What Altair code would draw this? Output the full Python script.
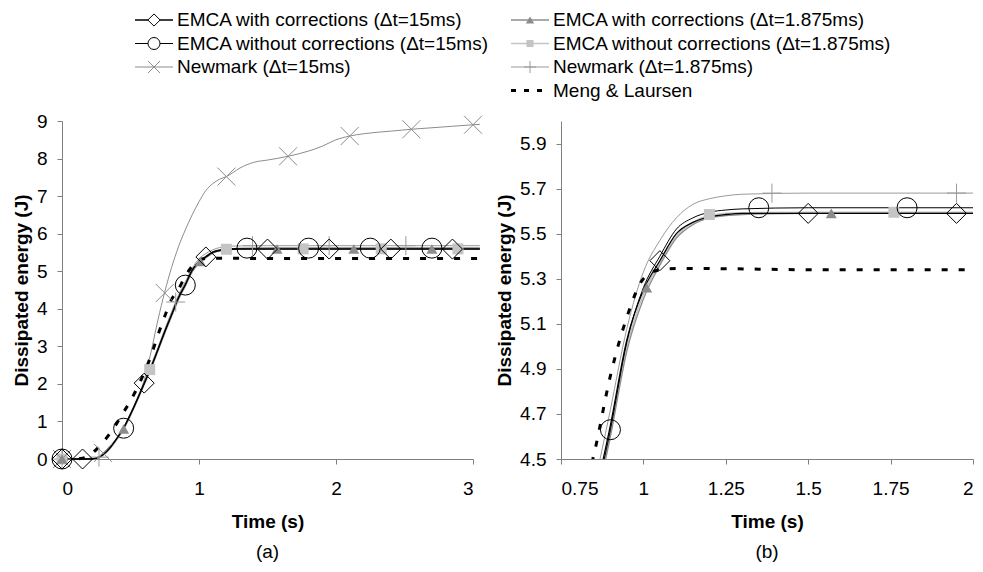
import altair as alt
import pandas as pd

FONT = "Liberation Sans"

# ---------------- series names ----------------
S1 = "EMCA with corrections (\u0394t=15ms)"
S2 = "EMCA without corrections (\u0394t=15ms)"
S3 = "Newmark (\u0394t=15ms)"
S4 = "EMCA with corrections (\u0394t=1.875ms)"
S5 = "EMCA without corrections (\u0394t=1.875ms)"
S6 = "Newmark (\u0394t=1.875ms)"
S7 = "Meng & Laursen"

# ---------------- curve data (time s, energy J) ----------------
T_EMCA = [0, 0.1, 0.2, 0.25, 0.3, 0.35, 0.4, 0.45, 0.5, 0.55, 0.6, 0.65, 0.7, 0.75,
          0.8, 0.85, 0.9, 0.95, 1.0, 1.05, 1.1, 1.15, 1.2, 1.25, 1.3, 1.5, 2.0, 2.5, 3.05]
E_S1 = [0, 0, 0, 0.02, 0.12, 0.3, 0.55, 0.83, 1.2, 1.6, 2.02, 2.45, 2.92, 3.4,
        3.85, 4.3, 4.65, 5.03, 5.25, 5.38, 5.5, 5.55, 5.575, 5.585, 5.59, 5.59, 5.59, 5.59, 5.59]
E_S2 = [0, 0, 0, 0.02, 0.11, 0.29, 0.54, 0.82, 1.18, 1.58, 2.0, 2.43, 2.9, 3.38,
        3.83, 4.28, 4.63, 5.02, 5.26, 5.4, 5.52, 5.57, 5.595, 5.605, 5.61, 5.615, 5.615, 5.615, 5.615]
E_S4 = [0, 0, 0, 0.01, 0.1, 0.28, 0.52, 0.8, 1.16, 1.56, 1.98, 2.4, 2.87, 3.35,
        3.8, 4.25, 4.6, 4.98, 5.21, 5.36, 5.48, 5.54, 5.57, 5.58, 5.585, 5.59, 5.59, 5.59, 5.59]
E_S5 = [0, 0, 0, 0.01, 0.1, 0.28, 0.52, 0.8, 1.17, 1.57, 2.02, 2.46, 2.9, 3.37,
        3.82, 4.26, 4.62, 5.0, 5.23, 5.37, 5.49, 5.55, 5.58, 5.59, 5.593, 5.595, 5.595, 5.595, 5.595]
E_S6 = [0, 0, 0, 0.02, 0.12, 0.3, 0.56, 0.85, 1.22, 1.63, 2.06, 2.5, 2.97, 3.45,
        3.92, 4.36, 4.72, 5.08, 5.33, 5.47, 5.57, 5.63, 5.655, 5.668, 5.675, 5.68, 5.68, 5.68, 5.68]

T_NM15 = [0, 0.2, 0.25, 0.3, 0.35, 0.4, 0.45, 0.5, 0.55, 0.6, 0.65, 0.7, 0.75, 0.8, 0.85,
          0.9, 0.95, 1.0, 1.05, 1.1, 1.15, 1.2, 1.3, 1.4, 1.5, 1.65, 1.8, 1.9, 2.0, 2.1,
          2.2, 2.4, 2.55, 2.7, 2.85, 3.0, 3.05]
E_S3 = [0, 0, 0.03, 0.16, 0.35, 0.55, 0.82, 1.2, 1.6, 2.1, 2.85, 3.7, 4.45, 5.1, 5.65,
        6.1, 6.5, 6.85, 7.15, 7.33, 7.45, 7.52, 7.75, 7.9, 7.96, 8.06, 8.2, 8.33, 8.5, 8.6,
        8.66, 8.73, 8.78, 8.82, 8.86, 8.9, 8.91]

T_MENG = [0, 0.1, 0.15, 0.2, 0.25, 0.3, 0.35, 0.4, 0.45, 0.5, 0.55, 0.6, 0.65, 0.7, 0.75,
          0.8, 0.85, 0.9, 0.95, 1.0, 1.05, 1.1, 1.2, 1.5, 2.0, 2.5, 3.05]
E_S7 = [0, 0, 0.02, 0.1, 0.25, 0.45, 0.68, 0.95, 1.25, 1.55, 1.9, 2.3, 2.75, 3.3, 3.8,
        4.25, 4.52, 4.87, 5.13, 5.3, 5.34, 5.345, 5.345, 5.34, 5.34, 5.34, 5.34]

# ---------------- marker data ----------------
MK_S1_T = [0, 0.15, 0.6, 1.05, 1.5, 1.95, 2.4, 2.85]
MK_S1_E = [0, 0, 2.02, 5.38, 5.59, 5.59, 5.59, 5.59]
MK_S2_T = [0, 0.45, 0.9, 1.35, 1.8, 2.25, 2.7]
MK_S2_E = [0, 0.82, 4.63, 5.615, 5.615, 5.615, 5.615]
MK_S3_T = [0, 0.3, 0.75, 1.2, 1.65, 2.1, 2.55, 3.0]
MK_S3_E = [0, 0.16, 4.42, 7.52, 8.06, 8.6, 8.78, 8.9]
MK_S4_T = [0, 0.45, 1.01, 1.57, 2.13, 2.7]
MK_S4_E = [0, 0.8, 5.26, 5.59, 5.59, 5.59]
MK_S5_T = [0, 0.64, 1.2, 1.76, 2.33, 2.89]
MK_S5_E = [0, 2.38, 5.585, 5.595, 5.595, 5.595]
MK_S6_T = [0, 0.27, 0.83, 1.39, 1.95, 2.51]
MK_S6_E = [0, 0.05, 4.18, 5.68, 5.68, 5.68]

LINES = {
    S1: (T_EMCA, E_S1), S2: (T_EMCA, E_S2), S3: (T_NM15, E_S3), S4: (T_EMCA, E_S4),
    S5: (T_EMCA, E_S5), S6: (T_EMCA, E_S6), S7: (T_MENG, E_S7),
}
MARKS = {
    S1: (MK_S1_T, MK_S1_E), S2: (MK_S2_T, MK_S2_E), S3: (MK_S3_T, MK_S3_E),
    S4: (MK_S4_T, MK_S4_E), S5: (MK_S5_T, MK_S5_E), S6: (MK_S6_T, MK_S6_E),
}

XPATH = "M-1,-1L1,1M-1,1L1,-1"
PPATH = "M-1,0L1,0M0,-1L0,1"

STYLE = {
    S1: dict(line="#000000", lw=1.3, shape="diamond", filled=False, mc="#000000", ms=400, ls=150),
    S2: dict(line="#000000", lw=1.0, shape="circle", filled=False, mc="#000000", ms=400, ls=144),
    S3: dict(line="#8c8c8c", lw=1.0, shape=XPATH, filled=False, mc="#8c8c8c", ms=324, ls=144),
    S4: dict(line="#8c8c8c", lw=1.3, shape="triangle-up", filled=True, mc="#8c8c8c", ms=121, ls=70),
    S5: dict(line="#c4c4c4", lw=1.6, shape="square", filled=True, mc="#c4c4c4", ms=121, ls=50),
    S6: dict(line="#9a9a9a", lw=1.0, shape=PPATH, filled=False, mc="#9a9a9a", ms=361, ls=144),
    S7: dict(line="#000000", lw=3.0, dash=[6, 11]),
}

AX = dict(domainColor="#808080", tickColor="#808080", tickSize=5, grid=False,
          labelFont=FONT, labelFontSize=19, labelColor="black",
          titleFont=FONT, titleFontSize=19, titleFontWeight="bold", titleColor="black")


def panel(series, xdom, xticks, ydom, yticks, clip, caption, w, h):
    xs = alt.Scale(domain=xdom, nice=False, zero=False)
    ys = alt.Scale(domain=ydom, nice=False, zero=False)
    xax = alt.Axis(values=xticks, format=".3~g", title="Time (s)", labelPadding=15,
                   titlePadding=14, **AX)
    yax = alt.Axis(values=yticks, format=".3~g", title="Dissipated energy (J)",
                   labelPadding=10, titlePadding=5, **AX)
    layers = []
    for key in series:
        st = STYLE[key]
        t, e = LINES[key]
        df = pd.DataFrame({"t": t, "E": e})
        kw = dict(color=st["line"], strokeWidth=st["lw"], interpolate="monotone", clip=clip)
        if "dash" in st:
            kw["strokeDash"] = st["dash"]
        layers.append(alt.Chart(df).mark_line(**kw).encode(
            x=alt.X("t:Q", scale=xs, axis=xax), y=alt.Y("E:Q", scale=ys, axis=yax)))
    for key in series:
        if key not in MARKS:
            continue
        st = STYLE[key]
        t, e = MARKS[key]
        df = pd.DataFrame({"t": t, "E": e})
        layers.append(alt.Chart(df).mark_point(
            shape=st["shape"], filled=st["filled"], color=st["mc"], size=st["ms"],
            strokeWidth=1, opacity=1, clip=clip).encode(
            x=alt.X("t:Q", scale=xs, axis=xax), y=alt.Y("E:Q", scale=ys, axis=yax)))
    return alt.layer(*layers).properties(
        width=w, height=h,
        title=alt.TitleParams(caption, orient="bottom", anchor="middle", frame="group",
                              font=FONT, fontSize=19, fontWeight="normal", offset=12,
                              color="black"))


left = panel([S6, S5, S4, S3, S2, S1, S7], [0, 3], [0, 1, 2, 3], [0, 9], list(range(10)),
             False, "(a)", 411, 338)
right = panel([S6, S5, S4, S2, S1, S7], [0.75, 2], [0.75, 1, 1.25, 1.5, 1.75, 2], [4.5, 6.0],
              [4.5, 4.7, 4.9, 5.1, 5.3, 5.5, 5.7, 5.9], True, "(b)", 412, 338)

# ---------------- legend ----------------
LEG_W, LEG_H = 900, 95
LEG_COL_SYM = [92, 468]     # symbol centre per column (chart px)
LEG_COL_HALF = 19           # half length of the sample line
LEG_COL_TEXT = [115, 491]
LEG_ROW_Y = [10, 33.5, 57, 80.5]
LEG_ENTRIES = [(S1, 0, 0), (S2, 0, 1), (S3, 0, 2), (S4, 1, 0), (S5, 1, 1), (S6, 1, 2), (S7, 1, 3)]

lx = alt.Scale(domain=[0, LEG_W], range=[0, LEG_W])
ly = alt.Scale(domain=[0, LEG_H], range=[0, LEG_H])
leg_layers = []
for key, col, row in LEG_ENTRIES:
    st = STYLE[key]
    cx = LEG_COL_SYM[col]
    df = pd.DataFrame({"x1": [cx - LEG_COL_HALF], "x2": [cx + LEG_COL_HALF], "xm": [cx],
                       "xt": [LEG_COL_TEXT[col]], "y": [LEG_ROW_Y[row]], "label": [key]})
    if "dash" in st:
        kw = dict(color=st["line"], strokeWidth=3, strokeDash=[5, 8])
    else:
        kw = dict(color=st["line"], strokeWidth=st["lw"])
    leg_layers.append(alt.Chart(df).mark_rule(**kw).encode(
        x=alt.X("x1:Q", scale=lx, axis=None), x2="x2:Q", y=alt.Y("y:Q", scale=ly, axis=None)))
    if "shape" in st:
        fill = st["mc"] if st["filled"] else ("white" if st["shape"] in ("diamond", "circle") else "transparent")
        leg_layers.append(alt.Chart(df).mark_point(
            shape=st["shape"], filled=st["filled"], color=st["mc"], fill=fill, size=st["ls"],
            strokeWidth=1, opacity=1).encode(
            x=alt.X("xm:Q", scale=lx, axis=None), y=alt.Y("y:Q", scale=ly, axis=None)))
    leg_layers.append(alt.Chart(df).mark_text(
        align="left", baseline="middle", font=FONT, fontSize=19, color="black").encode(
        x=alt.X("xt:Q", scale=lx, axis=None), y=alt.Y("y:Q", scale=ly, axis=None), text="label:N"))

legend = alt.layer(*leg_layers).properties(width=LEG_W, height=LEG_H)

charts = alt.HConcatChart(hconcat=[left, right], spacing=88, bounds="flush")
chart = alt.VConcatChart(vconcat=[legend, charts], spacing=16, bounds="flush").configure_view(
    stroke=None).properties(padding={"left": 4, "top": 2, "right": 0, "bottom": 0})

chart.save("out.html", embed_options={"renderer": "svg", "actions": False})
